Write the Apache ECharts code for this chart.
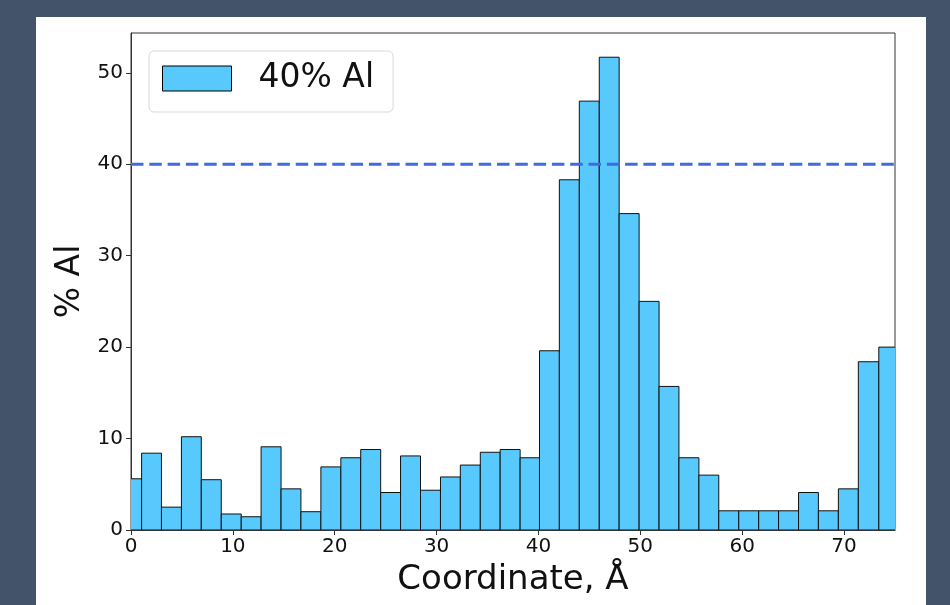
<!DOCTYPE html>
<html>
<head>
<meta charset="utf-8">
<script src="https://cdn.jsdelivr.net/npm/echarts@6/dist/echarts.min.js"></script>
<style>
  html, body { margin: 0; padding: 0; background: #435369; }
  #chart { width: 950px; height: 605px; }
</style>
</head>
<body>
<div id="chart"></div>
<script>
// histogram bins (Å) and Al content per bin (%)
const binEdges = [
  -0.92, 1.04, 2.99, 4.95, 6.90, 8.86, 10.82, 12.77, 14.73, 16.68,
  18.64, 20.60, 22.55, 24.51, 26.46, 28.42, 30.38, 32.33, 34.29, 36.24,
  38.20, 40.10, 42.05, 44.01, 45.97, 47.92, 49.88, 51.84, 53.79, 55.75,
  57.70, 59.66, 61.62, 63.57, 65.53, 67.48, 69.44, 71.40, 73.41, 75.36
];
const alPercent = [
  5.6, 8.4, 2.5, 10.2, 5.5, 1.75, 1.45, 9.1, 4.5, 2.0,
  6.9, 7.9, 8.8, 4.1, 8.1, 4.35, 5.8, 7.1, 8.5, 8.8,
  7.9, 19.6, 38.3, 46.9, 51.7, 34.6, 25.0, 15.7, 7.9, 6.0,
  2.1, 2.1, 2.1, 2.1, 4.1, 2.1, 4.5, 18.4, 20.0
];
const nominal = 40;
const xTicks = [0, 10, 20, 30, 40, 50, 60, 70];
const yTicks = [0, 10, 20, 30, 40, 50];

const barColor = '#58c9fd';
const histData = alPercent.map((v, i) => [binEdges[i], binEdges[i + 1], v]);

const chart = echarts.init(document.getElementById('chart'));
chart.setOption({
  backgroundColor: '#435369',
  textStyle: { fontFamily: 'DejaVu Sans' },
  animation: false,
  graphic: [{
    type: 'rect', z: -10, silent: true,
    shape: { x: 36, y: 17, width: 890, height: 600 },
    style: { fill: '#fff' }
  }],
  grid: {
    left: 131, top: 33, right: 55, bottom: 75,
    show: true, borderColor: '#333', borderWidth: 1
  },
  legend: {
    data: ['40% Al'],
    left: 149, top: 51,
    padding: [11, 19, 17, 13],
    icon: 'rect',
    itemWidth: 69, itemHeight: 25,
    backgroundColor: '#fff',
    borderColor: '#d9d9d9', borderWidth: 1, borderRadius: 5,
    itemStyle: { color: barColor, borderColor: '#000', borderWidth: 1 },
    textStyle: { fontSize: 33, color: '#111', padding: [0, 0, 0, 22], fontFamily: 'DejaVu Sans' }
  },
  xAxis: {
    type: 'value', min: 0, max: 75, interval: 10,
    name: 'Coordinate, Å', nameLocation: 'middle', nameGap: 33,
    nameTextStyle: { fontSize: 34, color: '#111', fontFamily: 'DejaVu Sans' },
    axisLine: { show: true, lineStyle: { color: '#333', width: 1 } },
    axisTick: { show: true, length: 5, lineStyle: { color: '#333' }, customValues: xTicks },
    axisLabel: { fontSize: 20, color: '#111', margin: 7, customValues: xTicks },
    splitLine: { show: false }
  },
  yAxis: {
    type: 'value', min: 0, max: 54.35, interval: 10,
    name: '% Al', nameLocation: 'middle', nameGap: 41,
    nameTextStyle: { fontSize: 33, color: '#111', fontFamily: 'DejaVu Sans' },
    axisLine: { show: true, lineStyle: { color: '#333', width: 1 } },
    axisTick: { show: true, length: 5, lineStyle: { color: '#333' }, customValues: yTicks },
    axisLabel: { fontSize: 20, color: '#111', margin: 8, customValues: yTicks },
    splitLine: { show: false }
  },
  series: [
    {
      name: '40% Al',
      type: 'custom',
      clip: true,
      itemStyle: { color: barColor, borderColor: '#000', borderWidth: 1 },
      encode: { x: [0, 1], y: 2 },
      data: histData,
      renderItem(params, api) {
        const p0 = api.coord([api.value(0), api.value(2)]);
        const p1 = api.coord([api.value(1), 0]);
        return {
          type: 'rect',
          shape: { x: p0[0], y: p0[1], width: p1[0] - p0[0], height: p1[1] - p0[1] },
          style: { fill: barColor, stroke: '#111', lineWidth: 1 }
        };
      }
    },
    {
      name: 'nominal',
      type: 'line',
      symbol: 'none',
      z: 5,
      lineStyle: { color: '#4169e1', width: 3, type: [12.5, 5.8] },
      data: [[0, nominal], [75, nominal]]
    }
  ]
});
</script>
</body>
</html>
